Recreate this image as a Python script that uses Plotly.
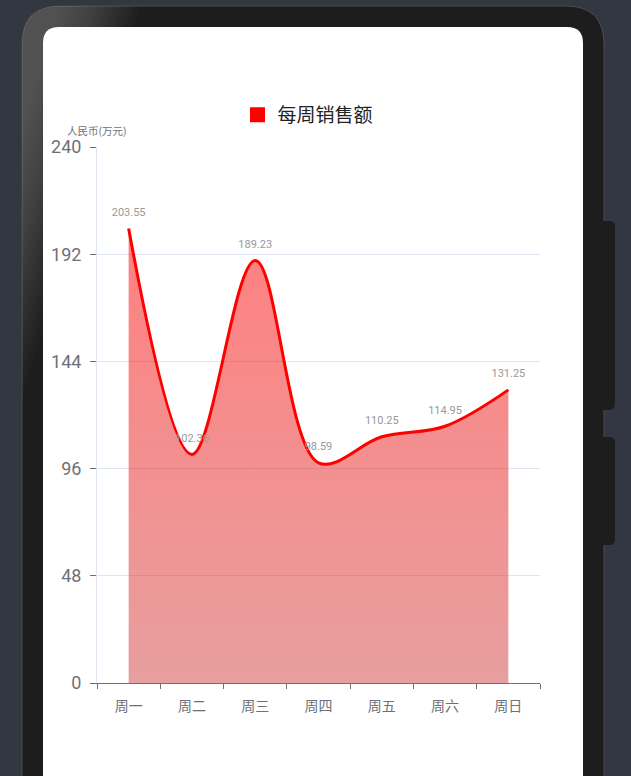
import plotly.graph_objects as go

# dados da semana
dias = ['周一', '周二', '周三', '周四', '周五', '周六', '周日']
vendas = [203.55, 102.36, 189.23, 98.59, 110.25, 114.95, 131.25]
y_ticks = [0, 48, 96, 144, 192, 240]
serie_nome = '每周销售额'
eixo_nome = '人民币(万元)'

W, H = 631, 776
ML, MR, MT, MB = 97, 91, 147, 93
PW = W - ML - MR
PH = H - MT - MB
FUNDO = '#323741'


def px_x(v):
    return (v - ML) / PW


def px_y(v):
    return (H - MB - v) / PH


def p(a, b):
    return '%.5f,%.5f' % (px_x(a), px_y(b))


def caixa(x0, y0, x1, y1, r):
    # retangulo arredondado em pixels -> path em coordenadas paper
    return ('M %s L %s Q %s %s L %s Q %s %s L %s Q %s %s L %s Q %s %s Z' % (
        p(x0 + r, y0), p(x1 - r, y0), p(x1, y0), p(x1, y0 + r), p(x1, y1 - r),
        p(x1, y1), p(x1 - r, y1), p(x0 + r, y1), p(x0, y1), p(x0, y1 - r),
        p(x0, y0 + r), p(x0, y0), p(x0 + r, y0)))


fig = go.Figure()

fig.add_trace(go.Scatter(
    x=dias, y=vendas,
    mode='lines+markers+text',
    line=dict(color='#ff0000', width=3, shape='spline', smoothing=1.0),
    marker=dict(size=14, color='rgba(0,0,0,0)'),
    fill='tozeroy',
    fillgradient=dict(type='vertical', start=0, stop=max(vendas),
                      colorscale=[[0, 'rgba(208,62,62,0.5)'], [1, 'rgba(255,0,0,0.5)']]),
    text=['%.2f' % v for v in vendas],
    textposition='top center',
    textfont=dict(size=11, color='#999999', family='Roboto, Noto Sans CJK SC'),
    showlegend=False,
    hoverinfo='skip',
))

# item da legenda
fig.add_trace(go.Scatter(
    x=[None], y=[None], mode='markers', name=serie_nome,
    marker=dict(symbol='square', color='#ff0000', size=15),
))

formas = [
    dict(type='path', path=caixa(22, 6, 604, 830, 38), fillcolor='#1d1d1d',
         line=dict(color='#4d4d4d', width=1)),
]
# brilho diagonal no canto superior esquerdo da moldura
inc = 0.3
for k in range(20):
    ck = 60 + 4.2 * k
    formas.append(dict(
        type='path',
        path='M %s L %s Q %s %s L %s L %s Z' % (
            p(22, 6 + (ck - 22) / inc), p(22, 44), p(22, 6), p(60, 6), p(ck, 6),
            p(22, 6 + (ck - 22) / inc)),
        fillcolor='rgba(255,255,255,0.017)', line=dict(width=0)))
formas += [
    dict(type='path', path=caixa(598, 221, 615, 410, 6), fillcolor='#1d1d1d',
         line=dict(width=0)),
    dict(type='path', path=caixa(598, 437, 615, 545, 6), fillcolor='#1d1d1d',
         line=dict(width=0)),
    dict(type='path', path=caixa(43, 27, 583, 830, 16), fillcolor='#ffffff',
         line=dict(width=0)),
]
for f in formas:
    fig.add_shape(xref='paper', yref='paper', layer='below', **f)

fig.add_annotation(
    text=eixo_nome, xref='paper', yref='paper', x=0, y=px_y(131),
    showarrow=False, xanchor='center', yanchor='middle',
    font=dict(size=10.5, color='#6e7079', family='Noto Sans CJK SC'),
)

fig.update_layout(
    width=W, height=H,
    margin=dict(l=ML, r=MR, t=MT, b=MB),
    paper_bgcolor=FUNDO,
    plot_bgcolor='rgba(0,0,0,0)',
    font=dict(family='Roboto, Noto Sans CJK SC', color='#6e7079'),
    legend=dict(orientation='h', x=px_x(308), y=px_y(96), xanchor='center', yanchor='top',
                font=dict(size=19, color='#222222', family='Noto Sans CJK SC'),
                bgcolor='rgba(0,0,0,0)', itemwidth=30),
    xaxis=dict(
        type='category', range=[-0.5, 6.5], tickson='boundaries',
        showline=True, linecolor='#6e7079', linewidth=1,
        ticks='outside', ticklen=5, tickcolor='#6e7079',
        showgrid=False, zeroline=False, ticklabelstandoff=10,
        tickfont=dict(size=14, color='#6e7079', family='Noto Sans CJK SC'),
        fixedrange=True,
    ),
    yaxis=dict(
        range=[0, 240], tickvals=y_ticks,
        showline=True, linecolor='#e0e6f1', linewidth=1,
        ticks='outside', ticklen=6, tickcolor='#6e7079',
        gridcolor='#e0e6f1', zeroline=False, ticklabelstandoff=5,
        tickfont=dict(size=18, color='#6e7079'),
        fixedrange=True,
    ),
)

fig.write_html('out.html', config={'displayModeBar': False},
               post_script="document.body.style.margin='0';document.body.style.background='%s';" % FUNDO)
